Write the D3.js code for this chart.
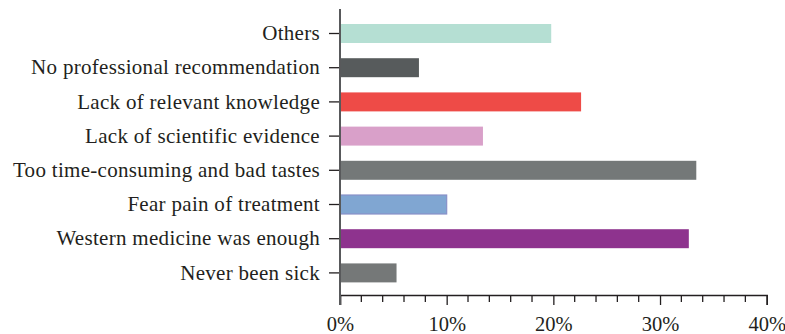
<!DOCTYPE html>
<html>
<head>
<meta charset="utf-8">
<script src="https://cdn.jsdelivr.net/npm/d3@7"></script>
<style>
  body { margin: 0; background: #fff; }
  text { font-family: "Liberation Serif", "Times New Roman", serif; fill: #231f20; }
</style>
</head>
<body>
<svg id="chart" width="785" height="334"></svg>
<script>
// reasons for not using TCM, share of respondents
var categories = [
    "Others",
    "No professional recommendation",
    "Lack of relevant knowledge",
    "Lack of scientific evidence",
    "Too time-consuming and bad tastes",
    "Fear pain of treatment",
    "Western medicine was enough",
    "Never been sick"
];
var values = [19.8, 7.4, 22.6, 13.4, 33.4, 10.0, 32.7, 5.3];
var barColors = ["#b5dfd3", "#575b5c", "#ee4b47", "#d9a0c9", "#747878", "#80a6d2", "#8e338e", "#757878"];
var xTicks = [0, 10, 20, 30, 40];

function init() {
    var svg = d3.select("#chart");

    var x = d3.scaleLinear()
        .domain([0, 40])
        .range([340, 766.7]);

    var y = d3.scaleBand()
        .domain(categories)
        .range([16.4, 290])
        .paddingInner(0.445)
        .paddingOuter(0.2225);

    var rows = categories.map(function (c, i) {
        return { name: c, value: values[i], color: barColors[i] };
    });

    // bars
    svg.append("g")
        .selectAll("rect")
        .data(rows)
        .enter()
        .append("rect")
        .attr("x", x(0))
        .attr("y", function (d) { return y(d.name); })
        .attr("width", function (d) { return x(d.value) - x(0); })
        .attr("height", y.bandwidth())
        .attr("fill", function (d) { return d.color; })
        .attr("stroke", function (d) { return d.name === "Fear pain of treatment" ? "#8890c8" : "none"; })
        .attr("stroke-width", 1.2);

    // minor ticks every 2%
    var minor = d3.range(0, 40.01, 2).filter(function (v) { return v % 10 !== 0; });
    svg.append("g")
        .selectAll("line")
        .data(minor)
        .enter()
        .append("line")
        .attr("x1", function (d) { return x(d); })
        .attr("x2", function (d) { return x(d); })
        .attr("y1", 295)
        .attr("y2", 302)
        .attr("stroke", "#231f20")
        .attr("stroke-width", 1.3);

    // x axis
    var xAxis = d3.axisBottom(x)
        .tickValues(xTicks)
        .tickSize(10)
        .tickPadding(11)
        .tickFormat(function (d) { return d + "%"; });

    var gx = svg.append("g")
        .attr("transform", "translate(0,295)")
        .call(xAxis);
    gx.select(".domain").attr("stroke", "#231f20").attr("stroke-width", 1.5);
    gx.selectAll(".tick line").attr("stroke", "#231f20").attr("stroke-width", 1.3);
    gx.selectAll(".tick text")
        .attr("font-size", 20.5)
        .attr("font-family", null)
        .attr("fill", "#231f20");

    // y axis
    var yAxis = d3.axisLeft(y)
        .tickSize(11)
        .tickPadding(9)
        .tickSizeOuter(0);

    var gy = svg.append("g")
        .attr("transform", "translate(340,0)")
        .call(yAxis);
    gy.select(".domain").remove();
    gy.selectAll(".tick line").attr("stroke", "#231f20").attr("stroke-width", 1.3);
    gy.selectAll(".tick text")
        .attr("font-size", 21)
        .attr("letter-spacing", 0.3)
        .attr("font-family", null)
        .attr("fill", "#231f20");

    // grey vertical axis line, runs past the band range at both ends
    svg.append("line")
        .attr("x1", 340)
        .attr("x2", 340)
        .attr("y1", 9)
        .attr("y2", 305)
        .attr("stroke", "#58595b")
        .attr("stroke-width", 2);
}

init();
</script>
</body>
</html>
